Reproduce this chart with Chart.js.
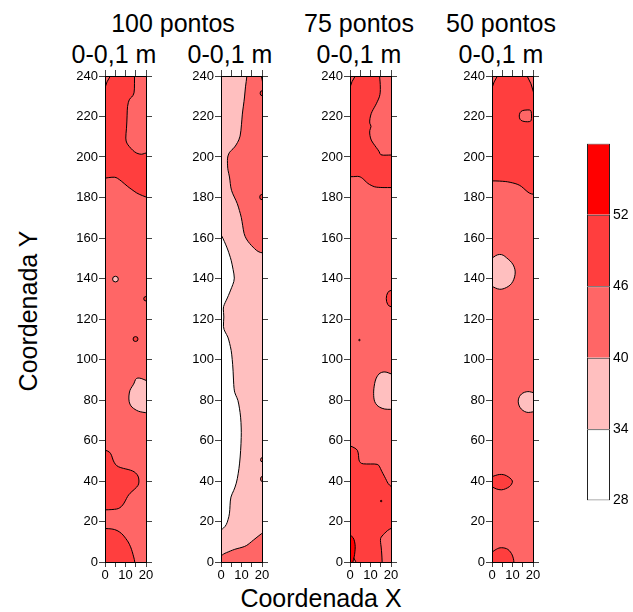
<!DOCTYPE html>
<html>
<head>
<meta charset="utf-8">
<script src="https://cdn.jsdelivr.net/npm/chart.js@4/dist/chart.umd.min.js"></script>
<style>
  body { margin:0; width:633px; height:612px; position:relative; background:#fff; overflow:hidden; }
  canvas { position:absolute; }
  .t { position:absolute; white-space:nowrap; font-family:"Liberation Sans", Arial, sans-serif; font-size:25px; line-height:25px; color:#000; transform:translateX(-50%); }
  .ty { position:absolute; white-space:nowrap; font-family:"Liberation Sans", Arial, sans-serif; font-size:25px; line-height:25px; color:#000; transform:translate(-50%,-50%) rotate(-90deg); }
</style>
</head>
<body>
<div class="t" style="left:173px;top:11px">100 pontos</div>
<div class="t" style="left:359px;top:11px">75 pontos</div>
<div class="t" style="left:501px;top:11px">50 pontos</div>
<div class="t" style="left:114px;top:42px">0-0,1 m</div>
<div class="t" style="left:230px;top:42px">0-0,1 m</div>
<div class="t" style="left:359px;top:42px">0-0,1 m</div>
<div class="t" style="left:501px;top:42px">0-0,1 m</div>
<div class="t" style="left:321px;top:586px">Coordenada X</div>
<div class="ty" style="left:28px;top:311px">Coordenada Y</div>

<canvas id="c1" width="101" height="526" style="left:60px;top:66px"></canvas>
<canvas id="c2" width="101" height="526" style="left:176px;top:66px"></canvas>
<canvas id="c3" width="101" height="526" style="left:305px;top:66px"></canvas>
<canvas id="c4" width="101" height="526" style="left:447px;top:66px"></canvas>
<canvas id="cb" width="46" height="380" style="left:587px;top:132px"></canvas>

<script>
// ---------- data ----------
const levels = [28, 34, 40, 46, 52, 58];
const colorbarTicks = [28, 34, 40, 46, 52];
const yTickValues = [0, 20, 40, 60, 80, 100, 120, 140, 160, 180, 200, 220, 240];
const xTickValues = [0, 5, 10, 15, 20];
const xTickLabels = [0, 10, 20];

// Panel 1: 100 pontos
const p1Base = 2;
const p1Regions = [
  { level: 3, pts: [[-2,244],[22,244],[22,179.5],[18,181],[15.4,182.2],[13,184],[11.3,185.2],[8,188.1],[6,189.6],[4.75,190.1],[2,189.9],[-2,189.2]] },
  { level: 2, pts: [[14.4,244],[14.4,236],[14.3,231.3],[13,229.5],[11.8,228.6],[10.9,225],[10.8,220.6],[10.5,214],[10,209],[10.6,206.8],[11.8,205.2],[13.5,203.3],[15.4,201.8],[17.9,201.2],[19.2,201.8],[22,202.4],[22,244]] },
  { level: 1, pts: [[22,89.3],[20,89.6],[18,90.6],[15.9,91],[14.8,90.2],[14.3,88.4],[13.2,86.6],[12.1,84.9],[11.6,82],[11.7,79],[12.6,77],[13.8,75.9],[15.5,74.8],[17,74.2],[20,73.7],[22,73.6]] },
  { level: 3, pts: [[-2,55.5],[0,55.3],[2.3,54.4],[3.3,52.5],[3.9,50.3],[5,48.2],[6.4,47],[9,46.2],[11.3,45.7],[13.5,45],[14.9,44.1],[16.2,42.5],[16.6,40.5],[16.5,38.5],[15.6,37],[13,34.7],[11.5,33.2],[10.5,31.4],[9.3,29],[8,27.3],[6.5,26.3],[4.75,26],[2,25.8],[-2,25.7]] },
  { level: 3, pts: [[-2,16.6],[2,16.5],[4.75,16.1],[7,15],[8.9,13.3],[10.2,11.5],[11.3,10],[12.5,7.5],[13.3,5.1],[14,2.5],[14.6,0],[14.8,-4],[-2,-4]] }
];
const p1Spots = [[5.1,139.7,1.4,1.4,1],[20,130,1.1,1.1,3],[14.9,110.1,1.2,1.2,3]];

// Panel 2: 100 pontos
const p2Base = 1;
const p2Regions = [
  { level: 2, pts: [[12.7,244],[12.7,240],[11.9,234.6],[11.5,229.6],[10.9,225],[10.4,221.4],[10,216],[9.4,209.9],[8,207],[6.7,204.9],[5,203.2],[4.2,202.5],[3.3,200.5],[3.1,198.4],[3.2,195.5],[3.4,193.4],[4.2,190.1],[4.5,187],[5,183.5],[6.5,180.2],[8,177],[9,173.5],[9.9,170.4],[10.6,166],[11.2,162.1],[12.3,159.5],[14,157.2],[15.6,155.5],[17.2,153.9],[19,152.8],[22,152.4],[22,244]] },
  { level: 0, pts: [[-2,162],[0,161.8],[1,159.7],[2.2,157],[3.4,154],[4.2,151.5],[5,149],[5.9,144.5],[6.7,140],[5.8,137],[4.7,134.3],[3.6,131.5],[2.6,129.3],[1.5,127],[1,125.2],[1.5,121.1],[1,116.1],[2,113.5],[3.4,111.2],[4.2,108],[5,104.6],[5.5,100],[5.9,94.8],[6.3,84.9],[7.2,82.3],[8.3,80],[9,76],[9.6,71.7],[9.9,66],[9.9,61.8],[9.6,55],[9.1,48.7],[8.4,43.5],[7.5,38.8],[6.2,35.2],[4.7,32.2],[4.4,28],[4.2,24],[3.5,21],[2.6,18.3],[1.3,16.8],[0,15.8],[-2,15.5]] },
  { level: 2, pts: [[-2,2.8],[0,3],[1.3,4],[2.6,4.6],[4.5,5.4],[6.7,6.3],[9,6.9],[11.5,7.6],[13.2,8.6],[14.8,10],[17,11.8],[20,14.2],[22,15.5],[22,-4],[-2,-4]] }
];
const p2Spots = [[20,231.5,0.9,1.2,3],[20,180.2,1.1,1.3,3],[20,50.5,0.7,1,2],[20,41,0.7,1.2,2]];

// Panel 3: 75 pontos
const p3Base = 2;
const p3Regions = [
  { level: 3, pts: [[-2,244],[22,244],[22,184.9],[18,184.9],[16.1,184.9],[14,185],[12,185.2],[10.3,186],[8.7,186.9],[7.3,188.3],[6.2,189.4],[5,190.2],[3.8,190.5],[2,190.3],[-2,190.2]] },
  { level: 2, pts: [[14.4,244],[14.4,240],[14.7,237],[14.8,234.6],[14.8,232],[14.4,229.7],[13.4,227.5],[12.5,225.6],[11.3,223.5],[10.3,221.5],[9.7,219],[9.5,216.5],[10.5,215.2],[9.5,213.2],[9.7,210.5],[10.3,208.3],[11.5,206.5],[12.8,204.7],[14.4,202.5],[14.8,200.9],[17.7,200.9],[20,201],[22,201],[22,244]] },
  { level: 1, pts: [[22,92.8],[20,92.8],[18,93.8],[16.1,93.9],[14.6,93.3],[13.6,92.3],[12.6,90.5],[12,88.2],[11.6,85.5],[11.5,83.3],[11.6,81],[12,79.1],[13,77.5],[14.4,76.4],[16.9,75.4],[20,75.4],[22,75.4]] },
  { level: 3, pts: [[-2,57.5],[0,57.4],[2,56.5],[3.8,55.3],[4.2,52.5],[4.3,50.3],[5,49],[6.2,48.4],[10,48.4],[13.6,48.4],[14.5,47],[15.2,45.4],[16,43.8],[16.9,42.1],[17.8,40.3],[18.5,38.8],[20,37.2],[22,36.5],[22,-4],[-2,-4]] },
  { level: 2, pts: [[22,17.5],[20,16.6],[18.3,15.6],[16.9,14.2],[15.6,12.8],[14.8,11.7],[14.9,9.5],[15.2,7.6],[15.5,4],[15.7,0],[15.7,-4],[22,-4]] },
  { level: 4, pts: [[-2,13.4],[0,13.3],[1.6,12.2],[2.3,10],[2.6,7.6],[2.4,5],[2.1,2.6],[1.3,0],[1.2,-4],[-2,-4]] }
];
const p3Spots = [[20,130.1,2.3,4,3],[4.6,109.6,0.35,0.35,3],[15.2,30.1,0.35,0.35,4]];

// Panel 4: 50 pontos
const p4Base = 2;
const p4Regions = [
  { level: 3, pts: [[-2,244],[22,244],[22,181.5],[20,181.6],[18.4,182],[16.7,183.3],[14.3,185.6],[12.3,186.6],[10.2,187.2],[7.5,187.8],[5.4,188],[2,188.2],[-2,188.2]] },
  { level: 2, pts: [[13.2,220.2],[13.6,222],[14.8,223],[16.5,223.2],[18.5,223.3],[19.2,222.6],[19.3,220.2],[19.2,217.9],[18.3,217.4],[16.5,217.4],[14.8,217.7],[13.6,218.5]] },
  { level: 1, pts: [[-2,150],[0,149.9],[1.8,151.4],[3.7,152],[5.5,151.6],[7,150.3],[8.8,148.8],[10.2,147.1],[11,145.3],[11.4,143.3],[11.1,140.8],[10.2,138.4],[8.8,136.6],[7,135.5],[5.3,134.8],[3.7,134.6],[1.8,135.2],[0,136.2],[-2,136.4]] },
  { level: 1, pts: [[22,83.6],[20,83.6],[18.3,84.2],[16.7,84.1],[15,83.5],[13.8,82.4],[13,81],[12.7,79.1],[13.2,77],[14.3,75.4],[15.8,74.3],[17.6,73.7],[20,74.2],[22,74.2]] },
  { level: 3, pts: [[-2,42.1],[0,42.1],[1.8,42.8],[3.7,43.3],[5.5,43.2],[7,42.7],[8.8,41.5],[10.2,40],[9.6,38.4],[8.6,37.2],[6.6,36.1],[4.6,35.5],[2.1,36],[0,37.2],[-2,37.4]] },
  { level: 3, pts: [[-2,4.8],[0,4.8],[1,5.6],[2.1,6.3],[3.3,6.9],[4.6,7.1],[6.3,6.9],[7.8,6.3],[9,5],[9.9,3.5],[10.5,1.5],[10.7,0],[10.8,-4],[-2,-4]] }
];
const p4Spots = [];

// ---------- styles ----------
const levelColors = ['#FFFFFF', '#FFBFBF', '#FF6666', '#FF3E3E', '#FF0000'];
const FONT = '"Liberation Sans", Arial, sans-serif';
const TICK_COLOR = '#444';

function smoothPath(ctx, pts) {
  const n = pts.length;
  const mid = (a, b) => [(a[0] + b[0]) / 2, (a[1] + b[1]) / 2];
  const m0 = mid(pts[n - 1], pts[0]);
  ctx.moveTo(m0[0], m0[1]);
  for (let i = 0; i < n; i++) {
    const p = pts[i], q = pts[(i + 1) % n];
    const m = mid(p, q);
    ctx.quadraticCurveTo(p[0], p[1], m[0], m[1]);
  }
  ctx.closePath();
}

function contourPlugin(base, regions, spots) {
  return {
    id: 'contourFill',
    beforeDraw(chart) {
      const { ctx, chartArea: a, scales } = chart;
      const xs = scales.x, ys = scales.y;
      ctx.save();
      ctx.beginPath();
      ctx.rect(a.left, a.top, a.right - a.left, a.bottom - a.top);
      ctx.clip();
      ctx.fillStyle = levelColors[base];
      ctx.fillRect(a.left, a.top, a.right - a.left, a.bottom - a.top);
      ctx.lineWidth = 1;
      ctx.strokeStyle = '#000';
      ctx.lineJoin = 'round';
      for (const r of regions) {
        const px = r.pts.map(([x, y]) => [xs.getPixelForValue(x), ys.getPixelForValue(y)]);
        ctx.beginPath();
        smoothPath(ctx, px);
        ctx.fillStyle = levelColors[r.level];
        ctx.fill();
        ctx.stroke();
      }
      for (const [x, y, rx, ry, lv] of spots) {
        const cx = xs.getPixelForValue(x), cy = ys.getPixelForValue(y);
        const prx = Math.abs(xs.getPixelForValue(x + rx) - cx);
        const pry = Math.abs(ys.getPixelForValue(y + ry) - cy);
        ctx.beginPath();
        ctx.ellipse(cx, cy, prx, pry, 0, 0, Math.PI * 2);
        ctx.fillStyle = levelColors[lv];
        ctx.fill();
        ctx.stroke();
      }
      ctx.restore();
    }
  };
}

function makePanel(id, base, regions, spots) {
  const tickFont = { family: FONT, size: 13 };
  const gridCommon = { drawOnChartArea: false, drawTicks: true, tickColor: TICK_COLOR, tickWidth: 1 };
  const border = { display: true, color: '#000', width: 1 };
  new Chart(document.getElementById(id), {
    type: 'scatter',
    data: { datasets: [] },
    options: {
      responsive: false,
      animation: false,
      devicePixelRatio: 1,
      layout: { padding: 0 },
      plugins: { legend: { display: false }, tooltip: { enabled: false } },
      scales: {
        x: {
          type: 'linear', position: 'bottom', min: 0, max: 20,
          afterBuildTicks: s => { s.ticks = xTickValues.map(v => ({ value: v })); },
          ticks: { callback: v => (xTickLabels.includes(v) ? String(v) : ''), font: tickFont, color: '#000', padding: 1, maxRotation: 0, autoSkip: false },
          grid: Object.assign({ tickLength: 5 }, gridCommon),
          border,
          afterFit: s => { s.height = 30; }
        },
        xTop: {
          type: 'linear', axis: 'x', position: 'top', min: 0, max: 20,
          afterBuildTicks: s => { s.ticks = xTickValues.map(v => ({ value: v })); },
          ticks: { display: false },
          grid: Object.assign({ tickLength: 6 }, gridCommon),
          border,
          afterFit: s => { s.height = 10; }
        },
        y: {
          type: 'linear', position: 'left', min: 0, max: 240,
          afterBuildTicks: s => { s.ticks = yTickValues.map(v => ({ value: v })); },
          ticks: { font: tickFont, color: '#000', padding: 1, autoSkip: false },
          grid: Object.assign({ tickLength: 6 }, gridCommon),
          border,
          afterFit: s => { s.width = 45; }
        },
        yRight: {
          type: 'linear', axis: 'y', position: 'right', min: 0, max: 240,
          afterBuildTicks: s => { s.ticks = yTickValues.map(v => ({ value: v })); },
          ticks: { display: false },
          grid: Object.assign({ tickLength: 6 }, gridCommon),
          border,
          afterFit: s => { s.width = 15; }
        }
      }
    },
    plugins: [contourPlugin(base, regions, spots)]
  });
}

makePanel('c1', p1Base, p1Regions, p1Spots);
makePanel('c2', p2Base, p2Regions, p2Spots);
makePanel('c3', p3Base, p3Regions, p3Spots);
makePanel('c4', p4Base, p4Regions, p4Spots);

// colour bar
const n = levelColors.length;
new Chart(document.getElementById('cb'), {
  type: 'bar',
  data: {
    labels: [''],
    datasets: levelColors.map((c, i) => ({
      data: [[levels[i], levels[i + 1]]],
      backgroundColor: c,
      borderColor: '#222',
      borderWidth: i === 0 ? 1 : { top: 1, left: 1, right: 1, bottom: 0 },
      borderSkipped: false,
      barPercentage: 1,
      categoryPercentage: 1,
      grouped: false,
      inflateAmount: 0
    }))
  },
  options: {
    responsive: false,
    animation: false,
    devicePixelRatio: 1,
    layout: { padding: { top: 10, bottom: 11, left: 0, right: 0 } },
    plugins: { legend: { display: false }, tooltip: { enabled: false } },
    scales: {
      x: { display: false },
      y: {
        position: 'right', min: levels[0], max: levels[levels.length - 1],
        afterBuildTicks: s => { s.ticks = colorbarTicks.map(v => ({ value: v })); },
        ticks: { font: { family: FONT, size: 14 }, color: '#000', padding: 3 },
        grid: { display: false, drawTicks: false },
        border: { display: false },
        afterFit: s => { s.width = 23; }
      }
    }
  }
});
</script>
</body>
</html>
